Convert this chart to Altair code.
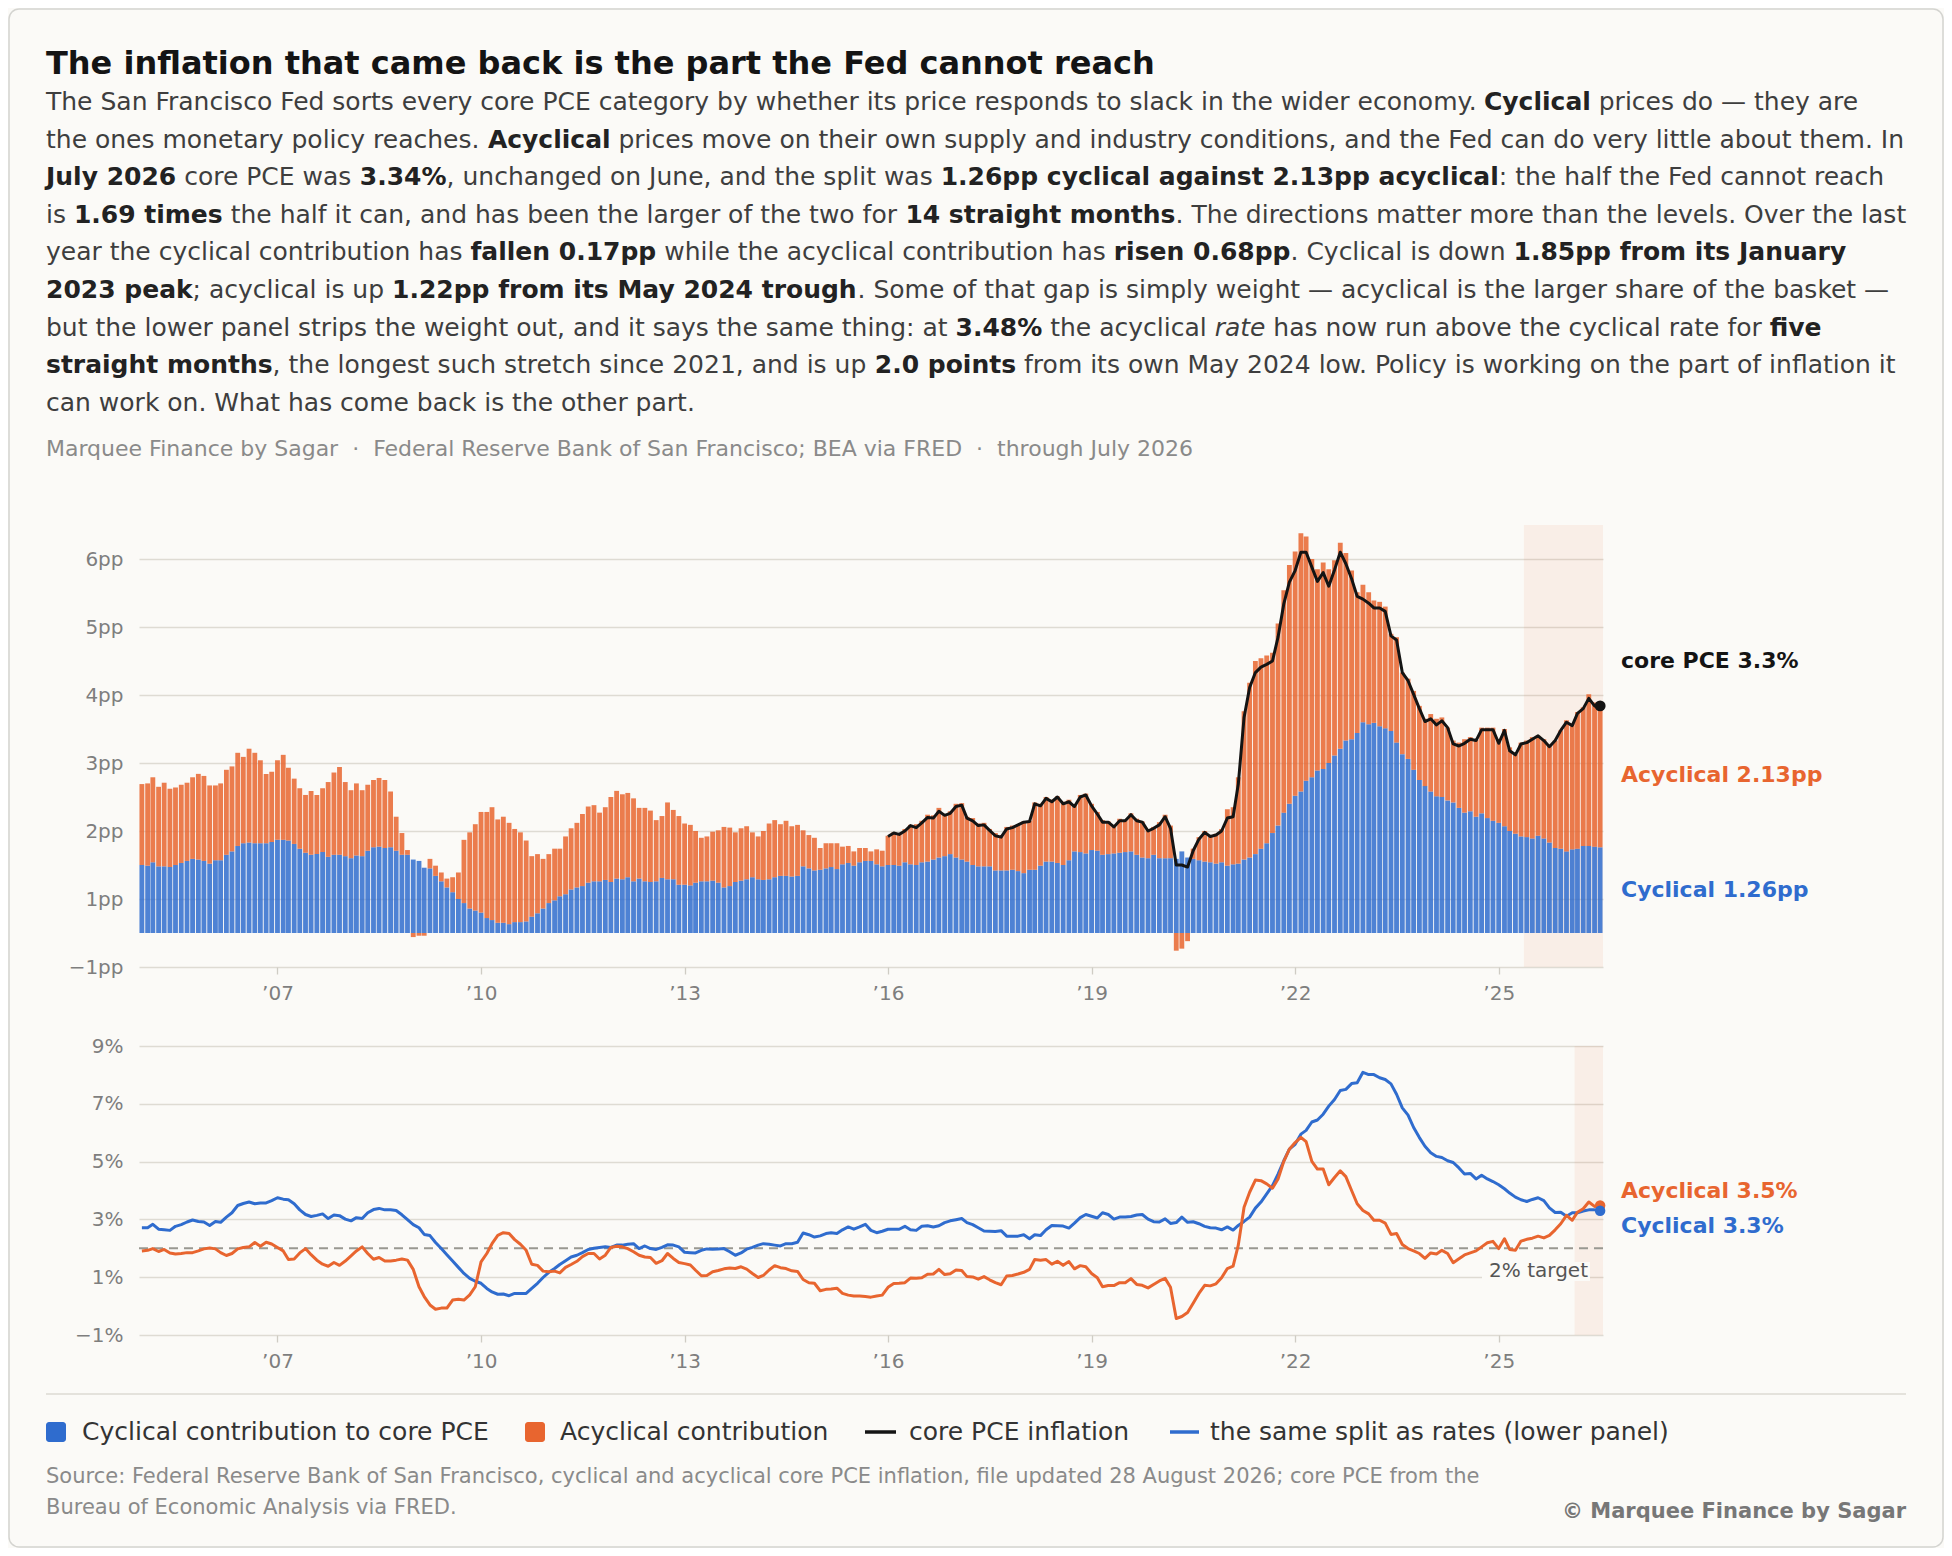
import altair as alt
import pandas as pd

FONT = "DejaVu Sans"
BG = "#fbfaf7"
BLUE = "#2f6cce"
ORANGE = "#e8652f"
INK = "#141414"
BODY = "#3e3e3e"
MUTED = "#8a8a8a"
AXIS_TXT = "#7e7e7e"
GRID = "#dedbd3"

# ---------------- data ----------------
FIRST_MONTH = "2005-01-01"

# contribution to core PCE inflation, percentage points (monthly, Jan 2005 - Jul 2026)
CYC_CONTRIB = [
    1.00, 0.99, 1.04, 0.98, 0.98, 0.97, 1.00, 1.03, 1.06, 1.09, 1.08, 1.06,  # 2005
    1.02, 1.07, 1.07, 1.15, 1.20, 1.28, 1.32, 1.33, 1.32, 1.32, 1.32, 1.34,  # 2006
    1.37, 1.37, 1.36, 1.31, 1.24, 1.18, 1.15, 1.16, 1.19, 1.12, 1.15, 1.15,  # 2007
    1.13, 1.10, 1.14, 1.13, 1.21, 1.26, 1.27, 1.25, 1.26, 1.21, 1.15, 1.15,  # 2008
    1.08, 1.06, 0.96, 0.95, 0.84, 0.76, 0.67, 0.60, 0.50, 0.44, 0.36, 0.33,  # 2009
    0.30, 0.22, 0.19, 0.15, 0.15, 0.13, 0.16, 0.16, 0.17, 0.24, 0.29, 0.36,  # 2010
    0.44, 0.48, 0.54, 0.57, 0.64, 0.67, 0.69, 0.74, 0.76, 0.76, 0.78, 0.75,  # 2011
    0.80, 0.79, 0.82, 0.76, 0.80, 0.76, 0.75, 0.76, 0.81, 0.79, 0.79, 0.71,  # 2012
    0.71, 0.70, 0.74, 0.76, 0.76, 0.77, 0.74, 0.67, 0.69, 0.75, 0.77, 0.79,  # 2013
    0.82, 0.79, 0.78, 0.79, 0.82, 0.84, 0.84, 0.83, 0.84, 0.98, 0.95, 0.92,  # 2014
    0.93, 0.95, 0.97, 0.94, 1.01, 1.03, 0.99, 1.04, 1.06, 1.06, 1.01, 0.98,  # 2015
    1.00, 1.00, 0.99, 1.04, 1.01, 1.00, 1.04, 1.05, 1.08, 1.11, 1.13, 1.16,  # 2016
    1.11, 1.08, 1.05, 1.00, 0.98, 0.98, 0.98, 0.92, 0.92, 0.92, 0.93, 0.91,  # 2017
    0.88, 0.93, 0.93, 0.99, 1.05, 1.05, 1.03, 1.00, 1.07, 1.20, 1.19, 1.17,  # 2018
    1.22, 1.21, 1.15, 1.16, 1.17, 1.18, 1.19, 1.20, 1.15, 1.11, 1.10, 1.15,  # 2019
    1.10, 1.10, 1.10, 1.09, 1.20, 1.11, 1.09, 1.07, 1.05, 1.04, 1.02, 1.04,  # 2020
    0.99, 1.01, 1.02, 1.08, 1.11, 1.16, 1.24, 1.32, 1.47, 1.58, 1.77, 1.90,  # 2021
    2.02, 2.08, 2.24, 2.29, 2.39, 2.41, 2.50, 2.61, 2.71, 2.83, 2.85, 2.94,  # 2022
    3.10, 3.07, 3.09, 3.04, 3.01, 2.97, 2.80, 2.63, 2.56, 2.40, 2.25, 2.16,  # 2023
    2.08, 2.01, 2.00, 1.95, 1.92, 1.84, 1.77, 1.79, 1.71, 1.76, 1.69, 1.65,  # 2024
    1.62, 1.57, 1.50, 1.46, 1.42, 1.41, 1.39, 1.43, 1.39, 1.33, 1.25, 1.24,  # 2025
    1.20, 1.23, 1.24, 1.28, 1.28, 1.27, 1.26,                                # 2026
]
ACYC_CONTRIB = [
    1.19, 1.21, 1.25, 1.17, 1.23, 1.15, 1.14, 1.15, 1.15, 1.20, 1.26, 1.25,
    1.15, 1.10, 1.13, 1.25, 1.25, 1.37, 1.27, 1.38, 1.33, 1.22, 1.02, 1.03,
    1.17, 1.25, 1.07, 0.96, 0.89, 0.85, 0.94, 0.87, 0.94, 1.10, 1.21, 1.29,
    1.09, 1.00, 1.06, 0.97, 0.97, 0.99, 1.01, 1.00, 0.82, 0.50, 0.32, 0.07,
    -0.06, -0.04, -0.04, 0.14, 0.15, 0.13, 0.13, 0.22, 0.39, 0.93, 1.12, 1.27,
    1.48, 1.56, 1.66, 1.52, 1.56, 1.49, 1.37, 1.32, 1.19, 0.89, 0.87, 0.73,
    0.72, 0.76, 0.70, 0.85, 0.90, 0.95, 1.06, 1.12, 1.12, 1.01, 1.07, 1.25,
    1.29, 1.25, 1.24, 1.22, 1.04, 1.08, 1.05, 0.90, 0.91, 1.13, 1.02, 1.01,
    0.90, 0.89, 0.76, 0.64, 0.66, 0.72, 0.77, 0.89, 0.86, 0.73, 0.77, 0.78,
    0.66, 0.63, 0.72, 0.82, 0.84, 0.76, 0.81, 0.74, 0.75, 0.53, 0.49, 0.48,
    0.32, 0.37, 0.35, 0.38, 0.26, 0.25, 0.21, 0.21, 0.19, 0.14, 0.22, 0.23,
    0.43, 0.48, 0.48, 0.49, 0.58, 0.60, 0.61, 0.69, 0.65, 0.73, 0.62, 0.63,
    0.79, 0.83, 0.66, 0.69, 0.63, 0.64, 0.55, 0.55, 0.51, 0.64, 0.65, 0.68,
    0.76, 0.72, 0.99, 0.91, 0.95, 0.91, 0.98, 0.93, 0.89, 0.69, 0.84, 0.88,
    0.68, 0.57, 0.51, 0.48, 0.41, 0.50, 0.47, 0.56, 0.53, 0.53, 0.43, 0.41,
    0.53, 0.64, 0.48, -0.26, -0.23, -0.12, 0.15, 0.34, 0.45, 0.39, 0.44, 0.49,
    0.83, 0.84, 1.27, 2.18, 2.57, 2.84, 2.80, 2.76, 2.65, 2.97, 3.27, 3.51,
    3.59, 3.80, 3.59, 3.21, 2.96, 3.04, 2.85, 2.87, 3.03, 2.76, 2.48, 2.07,
    2.02, 1.94, 1.80, 1.83, 1.79, 1.43, 1.55, 1.20, 1.18, 1.16, 1.09, 0.99,
    1.14, 1.14, 1.17, 1.07, 0.91, 0.96, 1.08, 1.09, 1.13, 1.26, 1.33, 1.37,
    1.21, 1.43, 1.23, 1.17, 1.38, 1.42, 1.49, 1.47, 1.46, 1.42, 1.58, 1.74,
    1.93, 1.85, 2.01, 2.04, 2.23, 2.12, 2.13,
]

# core PCE inflation, % y/y, drawn from Jan 2016
CORE_FROM = "2016-01-01"
CORE_PCE = [
    1.42, 1.47, 1.45, 1.50, 1.58, 1.55, 1.62, 1.70, 1.69, 1.79, 1.73, 1.76,
    1.86, 1.88, 1.69, 1.65, 1.58, 1.59, 1.51, 1.43, 1.41, 1.53, 1.55, 1.59,
    1.63, 1.64, 1.90, 1.87, 1.98, 1.93, 2.00, 1.90, 1.93, 1.86, 2.00, 2.03,
    1.87, 1.75, 1.63, 1.63, 1.56, 1.65, 1.65, 1.74, 1.65, 1.63, 1.50, 1.54,
    1.59, 1.71, 1.54, 1.00, 1.00, 0.97, 1.21, 1.38, 1.48, 1.42, 1.44, 1.50,
    1.69, 1.71, 2.19, 3.17, 3.61, 3.83, 3.91, 3.95, 4.00, 4.35, 4.84, 5.16,
    5.33, 5.60, 5.60, 5.38, 5.17, 5.30, 5.10, 5.34, 5.60, 5.43, 5.21, 4.95,
    4.91, 4.85, 4.78, 4.78, 4.73, 4.37, 4.31, 3.83, 3.71, 3.51, 3.30, 3.11,
    3.15, 3.06, 3.12, 3.02, 2.78, 2.75, 2.79, 2.85, 2.83, 2.99, 2.99, 2.99,
    2.79, 2.98, 2.68, 2.62, 2.78, 2.80, 2.85, 2.90, 2.83, 2.74, 2.83, 2.98,
    3.10, 3.05, 3.23, 3.30, 3.45, 3.34, 3.34,
]

# the same split as inflation rates, % y/y (lower panel)
CYC_RATE = [
    2.71, 2.71, 2.83, 2.66, 2.64, 2.62, 2.76, 2.82, 2.91, 2.98, 2.93, 2.91,
    2.79, 2.93, 2.90, 3.08, 3.23, 3.48, 3.55, 3.60, 3.54, 3.57, 3.57, 3.65,
    3.75, 3.70, 3.68, 3.54, 3.33, 3.17, 3.10, 3.14, 3.19, 3.03, 3.15, 3.13,
    3.01, 2.95, 3.06, 3.03, 3.23, 3.34, 3.38, 3.33, 3.33, 3.31, 3.16, 2.99,
    2.82, 2.71, 2.48, 2.44, 2.20, 1.99, 1.78, 1.56, 1.34, 1.13, 0.96, 0.86,
    0.79, 0.61, 0.49, 0.41, 0.42, 0.36, 0.44, 0.44, 0.44, 0.61, 0.79, 0.99,
    1.17, 1.30, 1.44, 1.57, 1.70, 1.76, 1.85, 1.96, 2.00, 2.03, 2.05, 2.03,
    2.11, 2.11, 2.14, 2.16, 1.99, 2.08, 1.99, 1.96, 2.03, 2.12, 2.11, 2.05,
    1.86, 1.85, 1.84, 1.93, 1.98, 1.97, 1.98, 1.99, 1.88, 1.76, 1.84, 1.97,
    2.03, 2.11, 2.16, 2.14, 2.11, 2.08, 2.16, 2.16, 2.21, 2.53, 2.47, 2.39,
    2.43, 2.51, 2.54, 2.51, 2.64, 2.74, 2.66, 2.74, 2.83, 2.62, 2.54, 2.59,
    2.66, 2.66, 2.66, 2.76, 2.64, 2.62, 2.76, 2.78, 2.74, 2.78, 2.89, 2.95,
    2.99, 3.03, 2.89, 2.82, 2.71, 2.60, 2.59, 2.58, 2.61, 2.42, 2.42, 2.42,
    2.47, 2.33, 2.47, 2.44, 2.64, 2.79, 2.78, 2.77, 2.70, 2.87, 3.06, 3.17,
    3.11, 3.05, 3.23, 3.17, 3.01, 3.08, 3.08, 3.10, 3.15, 3.17, 3.01, 2.92,
    2.91, 3.02, 2.86, 2.89, 3.08, 2.90, 2.92, 2.85, 2.76, 2.71, 2.70, 2.64,
    2.74, 2.63, 2.79, 2.93, 3.08, 3.39, 3.60, 3.88, 4.17, 4.57, 5.03, 5.43,
    5.60, 5.95, 6.08, 6.37, 6.44, 6.64, 6.92, 7.15, 7.46, 7.50, 7.70, 7.73,
    8.09, 8.01, 8.01, 7.90, 7.84, 7.69, 7.33, 6.86, 6.61, 6.18, 5.83, 5.53,
    5.31, 5.18, 5.14, 5.03, 4.97, 4.78, 4.57, 4.59, 4.40, 4.53, 4.40, 4.31,
    4.20, 4.06, 3.91, 3.77, 3.68, 3.62, 3.69, 3.75, 3.65, 3.40, 3.24, 3.25,
    3.11, 3.23, 3.23, 3.29, 3.33, 3.33, 3.30,
]
ACYC_RATE = [
    1.91, 1.93, 1.99, 1.89, 1.96, 1.84, 1.80, 1.82, 1.85, 1.85, 1.91, 1.98,
    2.01, 1.98, 1.85, 1.75, 1.82, 1.98, 2.03, 2.05, 2.20, 2.07, 2.21, 2.15,
    2.03, 1.91, 1.61, 1.63, 1.84, 1.99, 1.78, 1.59, 1.45, 1.38, 1.51, 1.41,
    1.56, 1.74, 1.91, 2.05, 1.82, 1.62, 1.68, 1.56, 1.56, 1.59, 1.63, 1.59,
    1.27, 0.67, 0.33, 0.04, -0.11, -0.07, -0.07, 0.21, 0.24, 0.21, 0.39, 0.67,
    1.53, 1.82, 2.16, 2.45, 2.54, 2.51, 2.30, 2.14, 1.93, 1.45, 1.41, 1.21,
    1.19, 1.21, 1.15, 1.34, 1.44, 1.55, 1.71, 1.82, 1.82, 1.63, 1.76, 2.03,
    2.07, 2.05, 1.99, 1.88, 1.76, 1.70, 1.68, 1.48, 1.57, 1.82, 1.65, 1.51,
    1.47, 1.42, 1.24, 1.05, 1.06, 1.19, 1.23, 1.29, 1.32, 1.30, 1.36, 1.28,
    1.13, 0.99, 1.06, 1.25, 1.40, 1.33, 1.30, 1.22, 1.20, 0.92, 0.81, 0.79,
    0.53, 0.58, 0.59, 0.62, 0.44, 0.38, 0.35, 0.35, 0.33, 0.31, 0.35, 0.38,
    0.65, 0.78, 0.79, 0.81, 0.97, 0.96, 0.98, 1.10, 1.11, 1.27, 1.09, 1.12,
    1.25, 1.23, 1.02, 1.01, 0.93, 1.02, 0.91, 0.81, 0.74, 1.04, 1.06, 1.11,
    1.17, 1.27, 1.61, 1.59, 1.61, 1.45, 1.55, 1.41, 1.54, 1.29, 1.40, 1.36,
    1.13, 0.98, 0.67, 0.71, 0.71, 0.81, 0.81, 0.95, 0.75, 0.72, 0.63, 0.75,
    0.87, 0.96, 0.65, -0.43, -0.36, -0.22, 0.10, 0.44, 0.72, 0.70, 0.77, 0.98,
    1.30, 1.38, 2.11, 3.42, 3.94, 4.36, 4.34, 4.23, 4.08, 4.40, 5.01, 5.43,
    5.66, 5.84, 5.69, 5.01, 4.74, 4.74, 4.20, 4.45, 4.68, 4.48, 4.00, 3.54,
    3.31, 3.19, 2.97, 2.97, 2.87, 2.48, 2.51, 2.13, 1.99, 1.91, 1.82, 1.65,
    1.84, 1.80, 1.93, 1.82, 1.50, 1.64, 1.77, 1.84, 1.91, 2.05, 2.19, 2.24,
    1.99, 2.33, 1.96, 1.93, 2.25, 2.31, 2.35, 2.42, 2.36, 2.45, 2.64, 2.85,
    3.14, 2.97, 3.25, 3.37, 3.60, 3.45, 3.48,
]

TOP_RUN_FROM = "2025-06-01"      # acyclical contribution larger: 14 months
BOTTOM_RUN_FROM = "2026-03-01"   # acyclical rate above cyclical rate: 5 months
TARGET = 2

TOP_LABELS = ["core PCE 3.3%", "Acyclical 2.13pp", "Cyclical 1.26pp"]
TOP_LABEL_AT = [4.0, 2.33, 0.63]
TOP_LABEL_COLORS = [INK, ORANGE, BLUE]
BOTTOM_LABELS = ["Acyclical 3.5%", "Cyclical 3.3%"]
BOTTOM_LABEL_AT = [3.97, 2.77]
BOTTOM_LABEL_COLORS = [ORANGE, BLUE]

TITLE = "The inflation that came back is the part the Fed cannot reach"
PARAGRAPH = [
    [("n", "The San Francisco Fed sorts every core PCE category by whether its price responds to slack in the wider economy. "),
     ("b", "Cyclical"), ("n", " prices do — they are")],
    [("n", "the ones monetary policy reaches. "), ("b", "Acyclical"),
     ("n", " prices move on their own supply and industry conditions, and the Fed can do very little about them. In")],
    [("b", "July 2026"), ("n", " core PCE was "), ("b", "3.34%"), ("n", ", unchanged on June, and the split was "),
     ("b", "1.26pp cyclical against 2.13pp acyclical"), ("n", ": the half the Fed cannot reach")],
    [("n", "is "), ("b", "1.69 times"), ("n", " the half it can, and has been the larger of the two for "),
     ("b", "14 straight months"), ("n", ". The directions matter more than the levels. Over the last")],
    [("n", "year the cyclical contribution has "), ("b", "fallen 0.17pp"), ("n", " while the acyclical contribution has "),
     ("b", "risen 0.68pp"), ("n", ". Cyclical is down "), ("b", "1.85pp from its January")],
    [("b", "2023 peak"), ("n", "; acyclical is up "), ("b", "1.22pp from its May 2024 trough"),
     ("n", ". Some of that gap is simply weight — acyclical is the larger share of the basket —")],
    [("n", "but the lower panel strips the weight out, and it says the same thing: at "), ("b", "3.48%"),
     ("n", " the acyclical "), ("i", "rate"), ("n", " has now run above the cyclical rate for "), ("b", "five")],
    [("b", "straight months"), ("n", ", the longest such stretch since 2021, and is up "), ("b", "2.0 points"),
     ("n", " from its own May 2024 low. Policy is working on the part of inflation it")],
    [("n", "can work on. What has come back is the other part.")],
]
# kerning inside the long first run of line 1 that the width table does not know about
KERN_FIX = [-8.5, 0, 0, 0, 0, 0, 0, 0, 0]
META = "Marquee Finance by Sagar\u00a0\u00a0·\u00a0\u00a0Federal Reserve Bank of San Francisco; BEA via FRED\u00a0\u00a0·\u00a0\u00a0through July 2026"
LEGEND = ["Cyclical contribution to core PCE", "Acyclical contribution", "core PCE inflation",
          "the same split as rates (lower panel)"]
SOURCE = ["Source: Federal Reserve Bank of San Francisco, cyclical and acyclical core PCE inflation, file updated 28 August 2026; core PCE from the",
          "Bureau of Economic Analysis via FRED."]
CREDIT = "© Marquee Finance by Sagar"

# ---------------- layout (pixels, relative to the plot origin) ----------------
PLOT_W, PLOT_H = 1464, 1540
LEFT_PAD = 131
TOP_RANGE = [959, 517]
BOT_RANGE = [1327, 1038]
TEXT_X = -93
LABEL_X = 1482

# rough DejaVu Sans advance widths (units per em = 2048), used to set bold runs inside a line
REG_W = {" ": 651, ".": 651, ",": 651, ":": 690, ";": 690, "%": 1946, "—": 2048, "-": 739, "(": 799, ")": 799}
REG_W.update(zip("abcdefghijklmnopqrstuvwxyz",
                 [1255, 1300, 1126, 1300, 1260, 721, 1300, 1298, 569, 569, 1186, 569, 1995,
                  1298, 1253, 1300, 1300, 842, 1067, 803, 1298, 1212, 1675, 1212, 1212, 1075]))
REG_W.update(zip("ABCDEFGHIJKLMNOPQRSTUVWXYZ",
                 [1401, 1405, 1430, 1577, 1294, 1178, 1587, 1540, 604, 604, 1343, 1141, 1767,
                  1532, 1612, 1235, 1612, 1423, 1300, 1251, 1499, 1401, 2025, 1403, 1251, 1403]))
REG_W.update({d: 1303 for d in "0123456789"})
BOLD_W = {" ": 713, ".": 780, ",": 780, ":": 819, ";": 819, "%": 2052, "—": 2048, "-": 852, "(": 930, ")": 930}
BOLD_W.update(zip("abcdefghijklmnopqrstuvwxyz",
                  [1382, 1466, 1214, 1466, 1389, 891, 1466, 1458, 702, 702, 1360, 702, 2134,
                   1458, 1409, 1466, 1466, 1010, 1219, 979, 1458, 1335, 1892, 1321, 1335, 1192]))
BOLD_W.update(zip("ABCDEFGHIJKLMNOPQRSTUVWXYZ",
                  [1577, 1556, 1499, 1700, 1399, 1399, 1688, 1714, 760, 760, 1589, 1339, 2040,
                   1714, 1741, 1507, 1741, 1597, 1483, 1399, 1663, 1577, 2267, 1571, 1483, 1464]))
BOLD_W.update({d: 1425 for d in "0123456789"})


def text_width(s, size, bold):
    table = BOLD_W if bold else REG_W
    return sum(table.get(ch, 1300) for ch in s) * size / 2048.0


# ---------------- frames ----------------
MONTHS = pd.date_range(FIRST_MONTH, periods=len(CYC_CONTRIB), freq="MS")
HALF = pd.Timedelta(hours=372)
X_START = alt.DateTime(year=2004, month=12, date=16, hours=12)
X_END_TS = MONTHS[-1] + HALF
X_END = alt.DateTime(year=2026, month=7, date=16, hours=12)
TICKS = [alt.DateTime(year=y, month=1, date=1) for y in range(2007, 2026, 3)]

bars_df = pd.DataFrame({"month": MONTHS, "Cyclical": CYC_CONTRIB, "Acyclical": ACYC_CONTRIB})
bars_df = bars_df.melt("month", var_name="part", value_name="pp")
bars_df["start"] = bars_df["month"] - pd.Timedelta(days=13)
bars_df["end"] = bars_df["month"] + pd.Timedelta(days=13)
bars_df["order"] = (bars_df["part"] == "Acyclical").astype(int)

core_df = pd.DataFrame({"month": pd.date_range(CORE_FROM, periods=len(CORE_PCE), freq="MS"), "pce": CORE_PCE})
rates_df = pd.DataFrame({"month": MONTHS, "cyc": CYC_RATE, "acyc": ACYC_RATE})
ONE = pd.DataFrame({"k": [0]})

# ---------------- scales and axes ----------------
X_SCALE = alt.Scale(domain=[X_START, X_END])


def x_axis(offset):
    return alt.Axis(orient="bottom", offset=offset, values=TICKS, format="\u2019%y", formatType="time",
                    grid=False, domain=False, ticks=True, tickSize=7, tickWidth=1.3, tickColor="#cfccc4",
                    labelFontSize=20, labelColor=AXIS_TXT, labelPadding=9, labelFlush=False)


TOP_X_AXIS = x_axis(TOP_RANGE[0] - PLOT_H)
BOT_X_AXIS = x_axis(BOT_RANGE[0] - PLOT_H)

TOP_Y_SCALE = alt.Scale(domain=[-0.5, 6.0], range=TOP_RANGE, nice=False, zero=False)
TOP_Y_AXIS = alt.Axis(orient="left", values=[-0.5, 0.5, 1.5, 2.5, 3.5, 4.5, 5.5],
                      labelExpr="(datum.value < 0 ? '\u2212' + round(-datum.value) : '' + round(datum.value)) + 'pp'",
                      grid=True, gridColor=GRID, gridWidth=1.4, domain=False, ticks=False,
                      labelFontSize=20, labelColor=AXIS_TXT, labelPadding=16)
BOT_Y_SCALE = alt.Scale(domain=[-1, 9], range=BOT_RANGE, nice=False, zero=False)
BOT_Y_AXIS = alt.Axis(orient="left", values=[-1, 1, 3, 5, 7, 9],
                      labelExpr="(datum.value < 0 ? '\u2212' + (-datum.value) : '' + datum.value) + '%'",
                      grid=True, gridColor=GRID, gridWidth=1.4, domain=False, ticks=False,
                      labelFontSize=20, labelColor=AXIS_TXT, labelPadding=16)


def tx(f):
    return alt.X(f, scale=X_SCALE, axis=TOP_X_AXIS, title=None)


def ty(f):
    return alt.Y(f, scale=TOP_Y_SCALE, axis=TOP_Y_AXIS, title=None)


def bx(f):
    return alt.X(f, scale=X_SCALE, axis=BOT_X_AXIS, title=None)


def by(f):
    return alt.Y(f, scale=BOT_Y_SCALE, axis=BOT_Y_AXIS, title=None)


# ---------------- upper panel: contributions ----------------
shade_top = alt.Chart(pd.DataFrame({"start": [pd.Timestamp(TOP_RUN_FROM) - HALF], "end": [X_END_TS]})).mark_rect(
    color=ORANGE, opacity=0.08).encode(x=tx("start:T"), x2="end:T", y=alt.value(TOP_RANGE[1]), y2=alt.value(TOP_RANGE[0]))

bars = alt.Chart(bars_df).transform_stack(
    stack="pp", as_=["y0", "y1"], groupby=["month"], sort=[alt.SortField("order", order="ascending")]
).mark_bar(opacity=0.85).encode(
    x=tx("start:T"), x2="end:T",
    y=ty("y0:Q"), y2="y1:Q",
    color=alt.Color("part:N", scale=alt.Scale(domain=["Cyclical", "Acyclical"], range=[BLUE, ORANGE]), legend=None),
)
core_line = alt.Chart(core_df).mark_line(color=INK, strokeWidth=3, strokeJoin="round").encode(
    x=tx("month:T"), y=ty("pce:Q"))
core_dot = alt.Chart(core_df.tail(1)).mark_circle(color=INK, size=120, opacity=1).encode(
    x=tx("month:T"), y=ty("pce:Q"))

top_labels = [
    alt.Chart(pd.DataFrame({"t": [t], "v": [v]})).mark_text(
        align="left", baseline="middle", font=FONT, fontSize=22, fontWeight="bold", color=c
    ).encode(x=alt.value(LABEL_X), y=ty("v:Q"), text="t:N")
    for t, v, c in zip(TOP_LABELS, TOP_LABEL_AT, TOP_LABEL_COLORS)
]
top = alt.layer(shade_top, bars, core_line, core_dot, *top_labels)

# ---------------- lower panel: rates ----------------
shade_bot = alt.Chart(pd.DataFrame({"start": [pd.Timestamp(BOTTOM_RUN_FROM) - HALF], "end": [X_END_TS]})).mark_rect(
    color=ORANGE, opacity=0.08).encode(x=bx("start:T"), x2="end:T", y=alt.value(BOT_RANGE[1]), y2=alt.value(BOT_RANGE[0]))
target = alt.Chart(pd.DataFrame({"v": [TARGET]})).mark_rule(
    color="#999891", strokeDash=[9, 6], strokeWidth=2).encode(y=by("v:Q"))
target_bg = alt.Chart(ONE).mark_rect(color=BG).encode(
    x=alt.value(1343), x2=alt.value(1451), y=alt.value(1254), y2=alt.value(1273))
target_txt = alt.Chart(pd.DataFrame({"t": ["2% target"]})).mark_text(
    align="right", baseline="middle", font=FONT, fontSize=20, color="#555555"
).encode(x=alt.value(1449), y=alt.value(1263), text="t:N")

cyc_line = alt.Chart(rates_df).mark_line(color=BLUE, strokeWidth=3, strokeJoin="round").encode(
    x=bx("month:T"), y=by("cyc:Q"))
acyc_line = alt.Chart(rates_df).mark_line(color=ORANGE, strokeWidth=3, strokeJoin="round").encode(
    x=bx("month:T"), y=by("acyc:Q"))
acyc_dot = alt.Chart(rates_df.tail(1)).mark_circle(color=ORANGE, size=110, opacity=1).encode(
    x=bx("month:T"), y=by("acyc:Q"))
cyc_dot = alt.Chart(rates_df.tail(1)).mark_circle(color=BLUE, size=110, opacity=1).encode(
    x=bx("month:T"), y=by("cyc:Q"))
bot_labels = [
    alt.Chart(pd.DataFrame({"t": [t], "v": [v]})).mark_text(
        align="left", baseline="middle", font=FONT, fontSize=22, fontWeight="bold", color=c
    ).encode(x=alt.value(LABEL_X), y=by("v:Q"), text="t:N")
    for t, v, c in zip(BOTTOM_LABELS, BOTTOM_LABEL_AT, BOTTOM_LABEL_COLORS)
]
bottom = alt.layer(shade_bot, target, target_bg, target_txt, cyc_line, acyc_line, acyc_dot, cyc_dot, *bot_labels)


# ---------------- header and footer text ----------------
def text_layer(rows, size, weight="normal", style="normal", color=BODY, align="left"):
    df = pd.DataFrame(rows, columns=["x", "y", "t"])
    return alt.Chart(df).mark_text(
        align=align, baseline="alphabetic", font=FONT, fontSize=size,
        fontWeight=weight, fontStyle=style, color=color,
    ).encode(x=alt.X("x:Q", scale=None, axis=None), y=alt.Y("y:Q", scale=None, axis=None), text="t:N")


def px_rect(x, x2, y, y2, color, **kw):
    return alt.Chart(ONE).mark_rect(color=color, **kw).encode(
        x=alt.value(x), x2=alt.value(x2), y=alt.value(y), y2=alt.value(y2))


def px_rule(x, x2, y, color, width):
    return alt.Chart(ONE).mark_rule(color=color, strokeWidth=width).encode(
        x=alt.value(x), x2=alt.value(x2), y=alt.value(y))


PARA_SIZE = 25
para_rows = {"n": [], "b": [], "i": []}
for k, line in enumerate(PARAGRAPH):
    base = 102 + 37.6 * k
    cursor = TEXT_X
    for j, (style, seg) in enumerate(line):
        bold = style == "b"
        lead = len(seg) - len(seg.lstrip())
        para_rows[style].append((cursor + text_width(seg[:lead], PARA_SIZE, bold), base, seg.strip()))
        cursor += text_width(seg, PARA_SIZE, bold)
        if j == 0:
            cursor += KERN_FIX[k]

deco = [
    alt.Chart(ONE).mark_rect(filled=False, stroke="#d4d4d0", strokeWidth=1.5, cornerRadius=10).encode(
        x=alt.value(-LEFT_PAD + 1), x2=alt.value(PLOT_W + 340), y=alt.value(1), y2=alt.value(PLOT_H - 1)),
    text_layer([(TEXT_X, 65.5, TITLE)], 32, weight="bold", color=INK),
    text_layer(para_rows["n"], PARA_SIZE),
    text_layer(para_rows["b"], PARA_SIZE, weight="bold", color="#222222"),
    text_layer(para_rows["i"], PARA_SIZE, style="italic"),
    text_layer([(TEXT_X, 447.7, META)], 22, color=MUTED),
    px_rule(TEXT_X, 1767, 1386, "#dcdad3", 1.3),
    px_rect(-93, -73, 1414, 1434, BLUE, cornerRadius=3),
    px_rect(386, 406, 1414, 1434, ORANGE, cornerRadius=3),
    px_rule(726, 757, 1424, INK, 3.5),
    px_rule(1031, 1060, 1424, BLUE, 3.5),
    text_layer([(-57, 1432, LEGEND[0]), (421, 1432, LEGEND[1]), (770, 1432, LEGEND[2]), (1071, 1432, LEGEND[3])],
               25, color="#333333"),
    text_layer([(TEXT_X, 1475, SOURCE[0]), (TEXT_X, 1506, SOURCE[1])], 21, color=MUTED),
    text_layer([(1767, 1510, CREDIT)], 21, weight="bold", color="#777777", align="right"),
]

chart = alt.layer(top, bottom, *deco).resolve_scale(
    x="independent", y="independent"
).properties(
    width=PLOT_W,
    height=PLOT_H,
    padding={"left": LEFT_PAD, "top": 0, "right": 1936 - LEFT_PAD - PLOT_W, "bottom": 0},
    autosize=alt.AutoSizeParams(type="none"),
).configure(background=BG, font=FONT).configure_view(strokeWidth=0)

chart.save("out.html", embed_options={"renderer": "svg", "actions": False})
